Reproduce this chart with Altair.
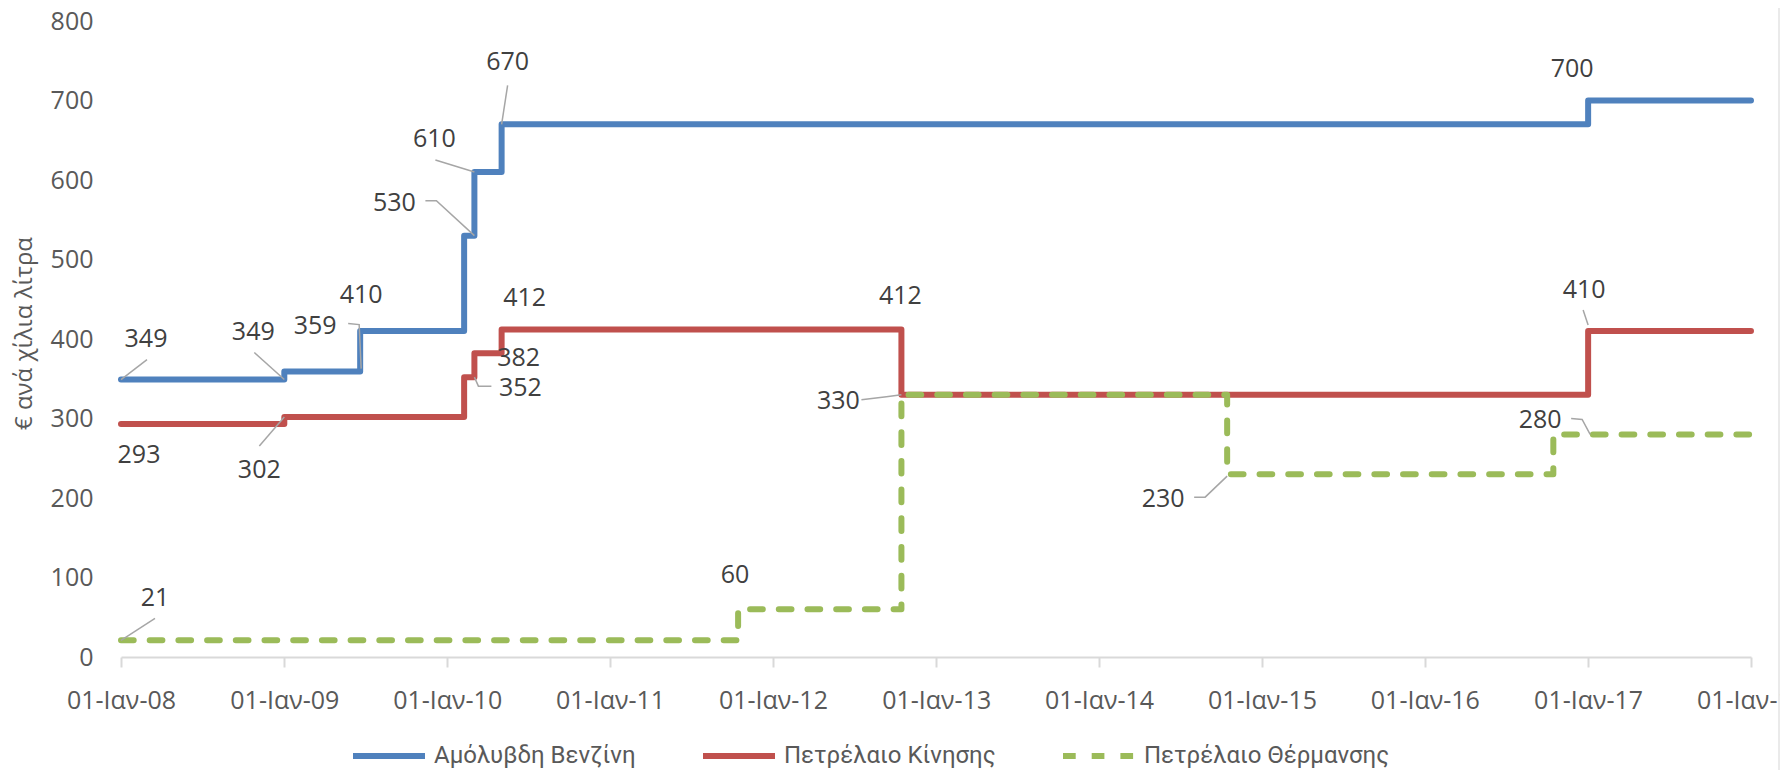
import altair as alt
import pandas as pd

# ---------------- data ----------------
series_names = ["Αμόλυβδη Βενζίνη", "Πετρέλαιο Κίνησης", "Πετρέλαιο Θέρμανσης"]
series_colors = ["#4f81bd", "#c0504d", "#9bbb59"]

blue_dates = ["2008-01-01", "2009-01-01", "2009-06-20", "2010-02-08", "2010-03-03",
              "2010-05-03", "2017-01-01", "2018-01-01"]
blue_vals = [349, 359, 410, 530, 610, 670, 700, 700]

red_dates = ["2008-01-01", "2009-01-01", "2010-02-08", "2010-03-03", "2010-05-03",
             "2012-10-15", "2017-01-01", "2018-01-01"]
red_vals = [293, 302, 352, 382, 412, 330, 410, 410]

green_dates = ["2008-01-01", "2011-10-15", "2012-10-15", "2014-10-15", "2016-10-15",
               "2018-01-01"]
green_vals = [21, 60, 330, 230, 280, 280]

# data labels (anchor point on the line and its text)
label_series = [0, 0, 0, 0, 0, 0, 0, 0, 1, 1, 1, 1, 1, 1, 1, 1, 2, 2, 2, 2]
label_dates = ["2008-01-01", "2009-01-01", "2009-06-20", "2009-06-20", "2010-03-03",
               "2010-03-03", "2010-05-03", "2017-01-01",
               "2008-01-01", "2009-01-01", "2010-03-03", "2010-05-03", "2010-05-03",
               "2012-10-15", "2012-10-15", "2017-01-01",
               "2008-01-01", "2011-10-15", "2014-10-15", "2017-01-01"]
label_values = [349, 349, 359, 410, 530, 610, 670, 700,
                293, 302, 352, 382, 412, 412, 330, 410,
                21, 60, 230, 280]
label_texts = [str(v) for v in label_values]

# label placement (pixel offsets of text centre from its point) - style only
label_dx = [25, -31, -45, 1, -80, -40, 6, -16,
            18, -25, 46, 17, 23, -1, -63, -4,
            34, -3, -64, -48]
label_dy = [-41, -48, -46, -36, -33, -33, -62, -32,
            31, 53, 11, 5, -31, -33, 6, -41,
            -42, -34, 25, -14]
# leader line shapes (pixel offsets from the point) - style only
leaders = [
    [(0, 0), (26, -20)],
    [(0, 0), (-30, -27)],
    [(1, -3), (-1, -47), (-12, -48)],
    None,
    [(0, 0), (-38, -35), (-49, -35)],
    [(0, 0), (-39, -12)],
    [(0, 0), (6, -39)],
    None,
    None,
    [(0, 0), (-25, 29)],
    [(0, 0), (4, 9), (17, 9)],
    None,
    None,
    None,
    [(0, 0), (-15, 2), (-40, 5)],
    [(0, -6), (-5, -21)],
    [(0, 0), (34, -22)],
    None,
    [(0, 2), (-22, 23), (-33, 23)],
    [(2, 0), (-6, -15), (-17, -16)],
]

year_ticks = list(range(2008, 2019))
y_ticks = list(range(0, 801, 100))

# ---------------- layout / style ----------------
W, H = 1630, 636
FONT = "Open Sans"
LEGEND_FONT = "Roboto"
YMAX = 800
ms_per_px = (pd.Timestamp("2018-01-01") - pd.Timestamp("2008-01-01")).total_seconds() * 1000 / W
units_per_px = YMAX / H

# ---------------- tables ----------------
rows = []
for name, ds, vs in zip(series_names, [blue_dates, red_dates, green_dates],
                        [blue_vals, red_vals, green_vals]):
    for d, v in zip(ds, vs):
        rows.append({"series": name, "date": d, "value": v})
lines_df = pd.DataFrame(rows)

labels_df = pd.DataFrame({
    "series": [series_names[i] for i in label_series],
    "date": label_dates,
    "value": label_values,
    "text": label_texts,
    "ox": label_dx,
    "oy": label_dy,
})

lrows = []
for i, segs in enumerate(leaders):
    if not segs:
        continue
    for k, (ox, oy) in enumerate(segs):
        lrows.append({"lid": i, "k": k, "date": label_dates[i], "value": label_values[i],
                      "ox": ox, "oy": oy})
leader_df = pd.DataFrame(lrows)

# ---------------- scales / axes ----------------
xscale = alt.Scale(type="utc",
                   domain=[alt.DateTime(year=2008, month=1, date=1, utc=True),
                           alt.DateTime(year=2018, month=1, date=1, utc=True)])
yscale = alt.Scale(domain=[0, YMAX], nice=False)

xaxis = alt.Axis(
    values=[alt.DateTime(year=y, month=1, date=1, utc=True) for y in year_ticks],
    labelExpr="'01-Ιαν-' + utcFormat(datum.value, '%y')",
    grid=False, domainColor="#d9d9d9", domainWidth=2,
    tickColor="#d9d9d9", tickWidth=2, tickSize=10,
    labelPadding=21, labelFontSize=25, labelColor="#595959", labelFont=FONT,
    labelFlush=False, labelOverlap=False, title=None,
)
yaxis = alt.Axis(
    values=y_ticks, grid=False, domain=False, ticks=False, tickSize=0,
    labelPadding=28, labelFontSize=25, labelColor="#595959", labelFont=FONT,
    title="€ ανά χίλια λίτρα", titleFont=FONT, titleFontSize=24,
    titleFontWeight="normal", titleColor="#595959", titleAngle=270,
    titleX=-97, titleY=312, titleAlign="center", titleBaseline="middle",
)

legend = alt.Legend(
    title=None, orient="none", legendX=229, legendY=696, direction="horizontal",
    symbolType="stroke", symbolSize=5184, symbolStrokeWidth=6,
    labelFontSize=24, labelColor="#595959", labelFont=LEGEND_FONT, labelLimit=500,
    columnPadding=55, labelOffset=6, padding=0,
)

color = alt.Color("series:N", scale=alt.Scale(domain=series_names, range=series_colors),
                  legend=legend)
dash = alt.StrokeDash("series:N",
                      scale=alt.Scale(domain=series_names,
                                      range=[[1, 0], [1, 0], [12.7, 16]]),
                      legend=legend)

layers = []
for name in series_names:
    layers.append(
        alt.Chart(lines_df).transform_filter(alt.datum.series == name)
        .mark_line(interpolate="step-after", strokeWidth=6, strokeCap="round",
                   strokeJoin="round")
        .encode(x=alt.X("date:T", scale=xscale, axis=xaxis),
                y=alt.Y("value:Q", scale=yscale, axis=yaxis),
                color=color, strokeDash=dash)
    )

lead = (
    alt.Chart(leader_df)
    .transform_calculate(lx=f"toDate(datum.date) + datum.ox * {ms_per_px}",
                         ly=f"datum.value - datum.oy * {units_per_px}")
    .mark_line(color="#a6a6a6", strokeWidth=1.5)
    .encode(x=alt.X("lx:T", scale=xscale, axis=xaxis),
            y=alt.Y("ly:Q", scale=yscale, axis=yaxis),
            detail="lid:N", order="k:Q")
)

texts = (
    alt.Chart(labels_df)
    .transform_calculate(lx=f"toDate(datum.date) + datum.ox * {ms_per_px}",
                         ly=f"datum.value - datum.oy * {units_per_px}")
    .mark_text(font=FONT, fontSize=25, color="#404040", align="center", baseline="middle")
    .encode(x=alt.X("lx:T", scale=xscale, axis=xaxis),
            y=alt.Y("ly:Q", scale=yscale, axis=yaxis),
            text="text:N")
)

border = (
    alt.Chart(pd.DataFrame({"a": [0]}))
    .mark_rule(color="#e3e3e3", strokeWidth=1.5)
    .encode(x=alt.value(W + 28), y=alt.value(-30), y2=alt.value(H + 140))
)

chart = (
    alt.layer(*layers, lead, texts, border)
    .properties(width=W, height=H, autosize=alt.AutoSizeParams(type="none"),
                padding={"left": 113, "top": 13, "right": 29, "bottom": 113})
    .configure_view(strokeWidth=0)
)

chart.save("out.html", embed_options={"renderer": "svg", "actions": False})
